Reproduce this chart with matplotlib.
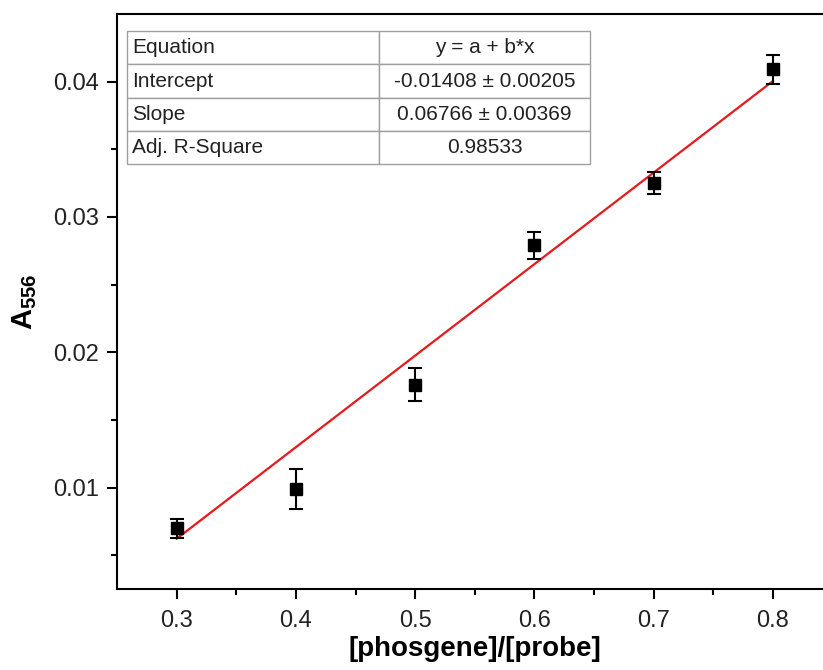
import matplotlib
matplotlib.use("Agg")
import matplotlib.pyplot as plt
import numpy as np

plt.rcParams['font.family'] = ['Liberation Sans', 'DejaVu Sans']
plt.rcParams['mathtext.fontset'] = 'custom'
plt.rcParams['mathtext.rm'] = 'Liberation Sans'
plt.rcParams['mathtext.bf'] = 'Liberation Sans:bold'

# Measured absorbance vs. ratio
ratio = [0.3, 0.4, 0.5, 0.6, 0.7, 0.8]
a556 = [0.0070, 0.0099, 0.0176, 0.0279, 0.0325, 0.0409]
a556_err = [0.0007, 0.0015, 0.0012, 0.0010, 0.0008, 0.0011]

# Linear fit parameters
intercept = -0.01408
slope = 0.06766
table_rows = [
    ["Equation", "y = a + b*x"],
    ["Intercept", "-0.01408 \u00b1 0.00205"],
    ["Slope", "0.06766 \u00b1 0.00369"],
    ["Adj. R-Square", "0.98533"],
]

fig = plt.figure(figsize=(8.23, 6.70), dpi=100)
ax = fig.add_axes([0.1422, 0.1209, 0.8695, 0.8582])

xfit = np.array([min(ratio), max(ratio)])
ax.plot(xfit, intercept + slope * xfit, color='#e41a1c', lw=1.6, zorder=2)

ax.errorbar(ratio, a556, yerr=a556_err, fmt='s', color='black', ms=9,
            ecolor='black', elinewidth=1.5, capsize=5, capthick=1.5, zorder=3)

ax.set_xlim(0.25, 0.85)
ax.set_ylim(0.0025, 0.045)
ax.set_xticks([0.3, 0.4, 0.5, 0.6, 0.7, 0.8])
ax.set_xticks(np.arange(0.35, 0.85, 0.1), minor=True)
ax.set_yticks([0.01, 0.02, 0.03, 0.04])
ax.set_yticks([0.005, 0.015, 0.025, 0.035], minor=True)
ax.set_xticklabels(['0.3', '0.4', '0.5', '0.6', '0.7', '0.8'])
ax.set_yticklabels(['0.01', '0.02', '0.03', '0.04'])

for s in ax.spines.values():
    s.set_linewidth(1.5)
ax.tick_params(axis='both', which='major', direction='out', length=7, width=1.5,
               labelsize=17, colors='black', labelcolor='#222222')
ax.tick_params(axis='both', which='minor', direction='out', length=4, width=1.5)
ax.tick_params(axis='x', which='major', pad=8)
ax.tick_params(axis='y', which='major', pad=6)

ax.set_xlabel('[phosgene]/[probe]', fontsize=20, fontweight='bold', labelpad=3)
ax.set_ylabel(r'$\mathbf{A}_{\mathbf{556}}$', fontsize=21, labelpad=10)

tbl = ax.table(cellText=table_rows, colWidths=[0.544, 0.456],
               bbox=[0.014, 0.739, 0.647, 0.231], zorder=5)
tbl.auto_set_font_size(False)
tbl.set_fontsize(15)
for (r, c), cell in tbl.get_celld().items():
    cell.set_edgecolor('#a0a0a0')
    cell.set_linewidth(1.0)
    cell.set_facecolor('white')
    cell.get_text().set_color('#222222')
    if c == 0:
        cell.get_text().set_ha('left')
        cell.PAD = 0.02
    else:
        cell.get_text().set_ha('center')

fig.savefig('out.png', dpi=100)
